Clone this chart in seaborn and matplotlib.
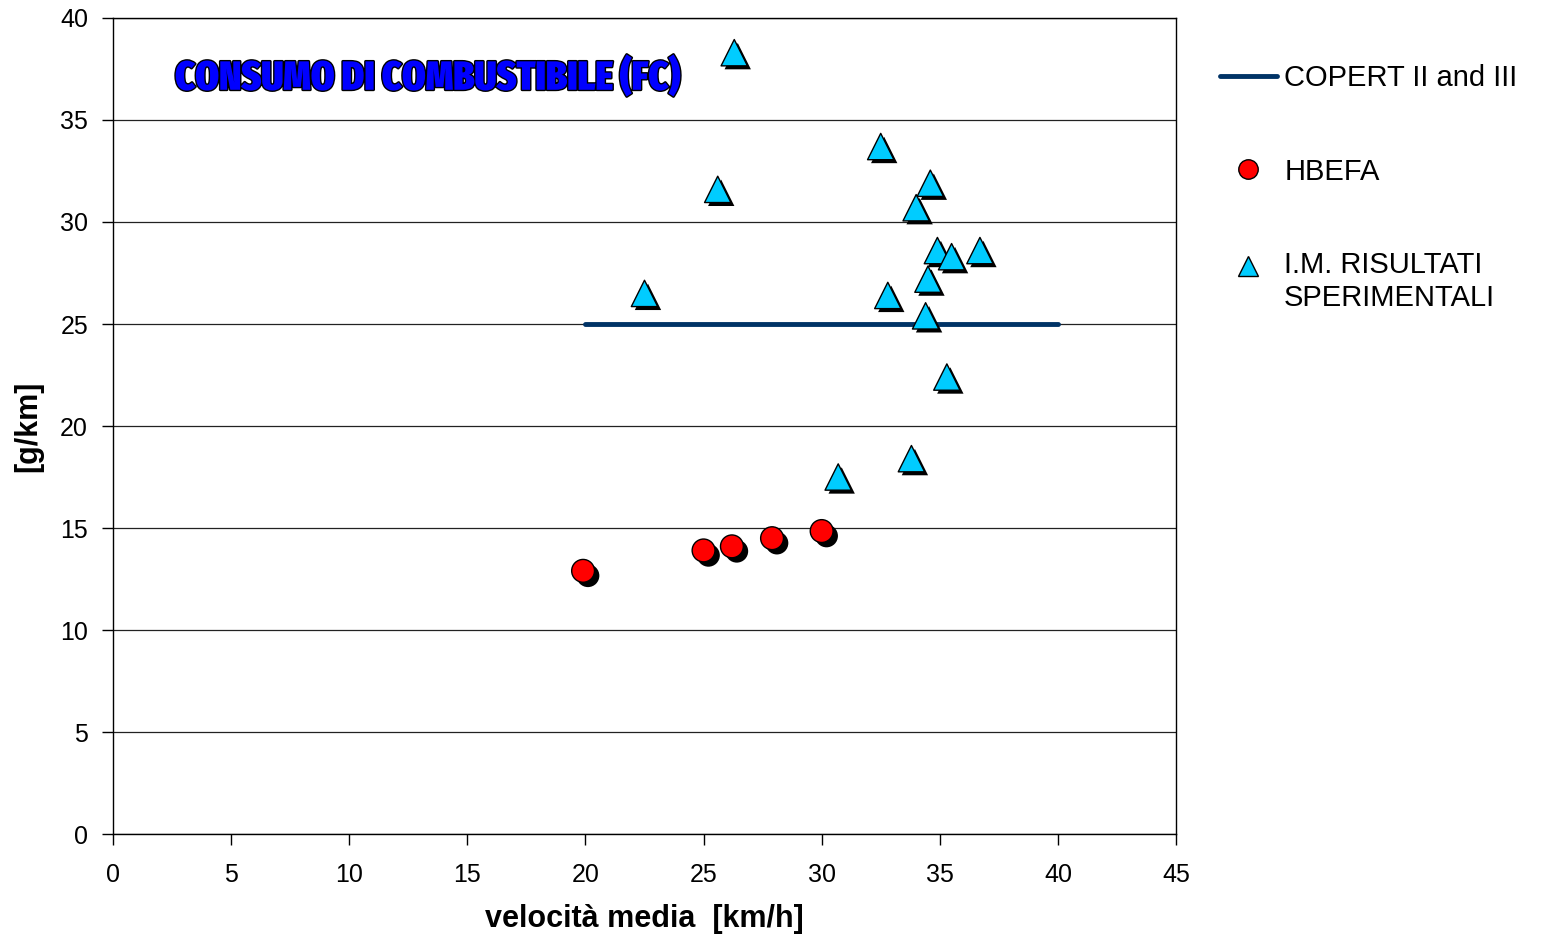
import matplotlib
matplotlib.use("Agg")
import matplotlib.pyplot as plt
import matplotlib.patheffects as pe
from matplotlib.lines import Line2D
from matplotlib.legend_handler import HandlerLine2D
import numpy as np
import seaborn as sns
import pandas as pd

# ---- data ----
copert_speed = [20, 40]
copert_fc = [25, 25]

hbefa_speed = [19.9, 25.0, 26.2, 27.9, 30.0]
hbefa_fc = [12.9, 13.9, 14.1, 14.5, 14.85]

im_speed = [26.3, 32.5, 25.6, 34.6, 34.0, 22.5, 32.8, 34.9, 35.5, 36.7, 34.5, 34.4, 35.3, 30.7, 33.8]
im_fc = [38.3, 33.7, 31.6, 31.9, 30.7, 26.5, 26.4, 28.6, 28.3, 28.6, 27.2, 25.4, 22.4, 17.5, 18.4]

x_ticks = [0, 5, 10, 15, 20, 25, 30, 35, 40, 45]
y_ticks = [0, 5, 10, 15, 20, 25, 30, 35, 40]

labels = ["COPERT II and III", "HBEFA", "I.M. RISULTATI\nSPERIMENTALI"]
title = "CONSUMO DI COMBUSTIBILE (FC)"
xlabel = "velocità media  [km/h]"
ylabel = "[g/km]"

sns.set_theme(style="white")
plt.rcParams["font.family"] = ["Liberation Sans", "DejaVu Sans"]
for k in ["text.color", "axes.labelcolor", "xtick.color", "ytick.color"]:
    plt.rcParams[k] = "black"

W, H = 1557, 938
fig = plt.figure(figsize=(W/100, H/100), dpi=100)
ax = fig.add_axes([113/W, 1 - 834/H, (1176-113)/W, (834-18)/H])

df_c = pd.DataFrame({"x": copert_speed, "y": copert_fc})
df_h = pd.DataFrame({"x": hbefa_speed, "y": hbefa_fc})
df_i = pd.DataFrame({"x": im_speed, "y": im_fc})

ax.set_axisbelow(True)
ax.yaxis.grid(True, color="#222222", linewidth=0.9)
ax.xaxis.grid(False)

sns.lineplot(data=df_c, x="x", y="y", ax=ax, color="#003366", linewidth=3.5, zorder=3, legend=False)
sns.scatterplot(data=df_h, x="x", y="y", ax=ax, marker="o", s=270, color="#ff0000",
                edgecolor="black", linewidth=1.0, zorder=4, legend=False)
ax.collections[-1].set_path_effects([pe.SimplePatchShadow(offset=(3.5, -3.5), shadow_rgbFace="black", alpha=1.0), pe.Normal()])
sns.scatterplot(data=df_i, x="x", y="y", ax=ax, marker="^", s=360, color="#00ccff",
                edgecolor="black", linewidth=1.0, zorder=5, legend=False)
ax.collections[-1].set_path_effects([pe.SimplePatchShadow(offset=(2.5, -2.5), shadow_rgbFace="black", alpha=1.0), pe.Normal()])

ax.set_xlim(0, 45)
ax.set_ylim(0, 40)
ax.set_xticks(x_ticks)
ax.set_yticks(y_ticks)
ax.tick_params(axis="both", which="major", direction="out", length=8, width=1, color="black",
               labelsize=18, labelcolor="black", bottom=True, left=True)
ax.tick_params(axis="x", pad=13)
ax.tick_params(axis="y", pad=10)
for sp in ax.spines.values():
    sp.set_color("black")
    sp.set_linewidth(1.0)

ax.set_xlabel(xlabel, fontsize=22, fontweight="bold", labelpad=12, color="black")
ax.set_ylabel(ylabel, fontsize=22, fontweight="bold", labelpad=12, color="black")

# WordArt-like title, fitted to the reference width
t = ax.text(0, 0, title, transform=ax.transAxes, ha="left", va="center",
            fontsize=40, fontweight=900, color="#0000ff",
            family=["Fira Sans Extra Condensed", "Barlow Condensed", "Liberation Sans"],
            path_effects=[pe.withStroke(linewidth=2.0, foreground="black")])
t.set_position(((175 - 113) / (1176 - 113), (834 - 78) / (834 - 18)))
fig.canvas.draw()
w = t.get_window_extent().width
t.set_fontsize(40 * 505 / w)


class ShiftedHandler(HandlerLine2D):
    def __init__(self, dy=0, **kw):
        super().__init__(**kw)
        self.dy = dy

    def create_artists(self, legend, orig_handle, xdescent, ydescent, width, height, fontsize, trans):
        arts = super().create_artists(legend, orig_handle, xdescent, ydescent, width, height, fontsize, trans)
        for a in arts:
            a.set_ydata(np.asarray(a.get_ydata()) + self.dy * fontsize)
        return arts


handles = [
    Line2D([], [], color="#003366", linewidth=3.5),
    Line2D([], [], linestyle="none", marker="o", markersize=14, markerfacecolor="#ff0000", markeredgecolor="black"),
    Line2D([], [], linestyle="none", marker="^", markersize=14, markerfacecolor="#00ccff", markeredgecolor="black"),
]
fig.legend(handles, labels, loc="upper left", bbox_to_anchor=(1220/W, 1 - 64/H), frameon=False,
           fontsize=21, labelspacing=2.25, handlelength=1.95, handletextpad=0.25, borderpad=0,
           borderaxespad=0, handler_map={handles[2]: ShiftedHandler(dy=0.55)})

fig.savefig("out.png", dpi=100)
